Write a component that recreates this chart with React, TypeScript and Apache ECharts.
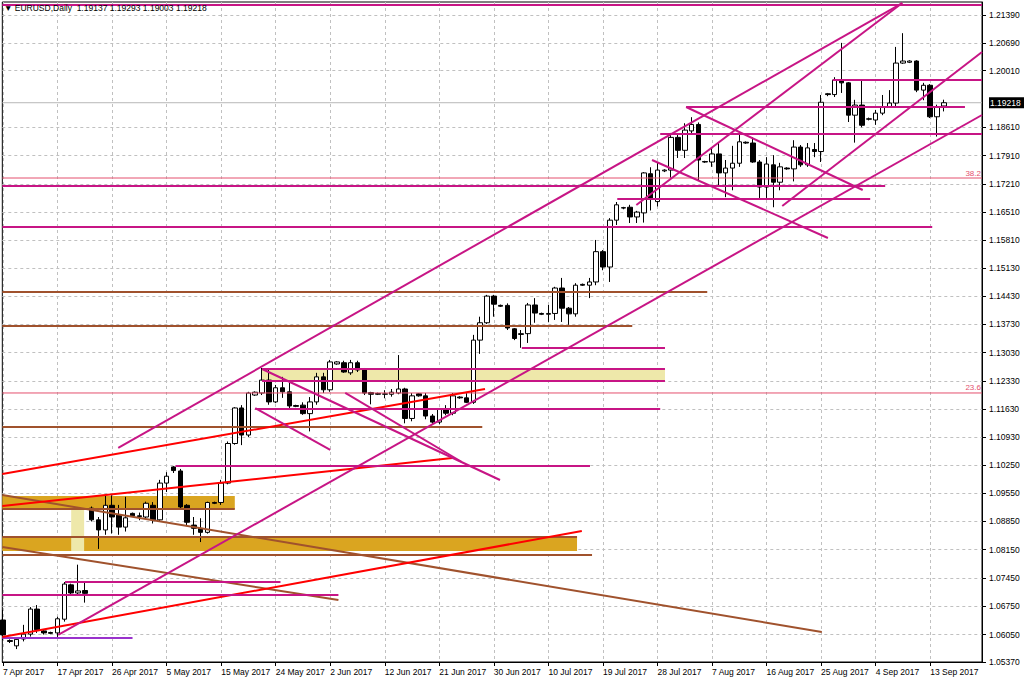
import React, { useEffect, useRef } from "react";
import * as echarts from "echarts";

// ---- axis labels ----
const dateLabels = [
  "7 Apr 2017", "17 Apr 2017", "26 Apr 2017", "5 May 2017", "15 May 2017", "24 May 2017",
  "2 Jun 2017", "12 Jun 2017", "21 Jun 2017", "30 Jun 2017", "10 Jul 2017", "19 Jul 2017",
  "28 Jul 2017", "7 Aug 2017", "16 Aug 2017", "25 Aug 2017", "4 Sep 2017", "13 Sep 2017",
];
const dateLabelIdx = [0, 8, 16, 24, 32, 40, 48, 56, 64, 72, 80, 88, 96, 104, 112, 120, 128, 136];

const priceTicks = [
  1.2139, 1.2069, 1.2001, 1.1861, 1.1791, 1.1721, 1.1651, 1.1581, 1.1513, 1.1443, 1.1373,
  1.1303, 1.1233, 1.1163, 1.1093, 1.1025, 1.0955, 1.0885, 1.0815, 1.0745, 1.0675, 1.0605, 1.0537,
];

// ---- daily OHLC (bar index 0 = 7 Apr 2017) ----
const opens = [
  1.0641, 1.0590, 1.0577, 1.0594, 1.0606, 1.0668, 1.0614, 1.0610, 1.0609, 1.0643, 1.0728, 1.0708, 1.0714,
  1.0918, 1.0889, 1.0864, 1.0925, 1.0901, 1.0871, 1.0905, 1.0899, 1.0896, 1.0925, 1.0889, 1.0980,
  1.1020, 1.1010, 1.0925, 1.0876, 1.0868, 1.0858, 1.0932, 1.0932, 1.0980, 1.1078, 1.1166, 1.1099,
  1.1198, 1.1203, 1.1235, 1.1181, 1.1216, 1.1206, 1.1172, 1.1173, 1.1152, 1.1181, 1.1243, 1.1211,
  1.1275, 1.1278, 1.1253, 1.1278, 1.1260, 1.1204, 1.1202, 1.1200, 1.1200, 1.1203, 1.1213, 1.1140,
  1.1201, 1.1196, 1.1146, 1.1131, 1.1163, 1.1153, 1.1193, 1.1191, 1.1180, 1.1334, 1.1377, 1.1443,
  1.1420, 1.1420, 1.1362, 1.1348, 1.1350, 1.1421, 1.1400, 1.1398, 1.1400, 1.1463, 1.1413, 1.1399,
  1.1472, 1.1470, 1.1478, 1.1553, 1.1515, 1.1631, 1.1662, 1.1663, 1.1639, 1.1649, 1.1746, 1.1677,
  1.1753, 1.1755, 1.1836, 1.1804, 1.1852, 1.1868, 1.1776, 1.1775, 1.1795, 1.1748, 1.1760, 1.1772,
  1.1824, 1.1822, 1.1775, 1.1713, 1.1768, 1.1725, 1.1760, 1.1758, 1.1812, 1.1768, 1.1806, 1.1801,
  1.1944, 1.1942, 1.1978, 1.1971, 1.1891, 1.1916, 1.1882, 1.1879, 1.1896, 1.1911, 1.1921, 1.2020,
  1.2022, 1.2025, 1.1953, 1.1965, 1.1887, 1.19137,
];
const highs = [
  1.0666, 1.0593, 1.0597, 1.0629, 1.0673, 1.0678, 1.0618, 1.0612, 1.0649, 1.0735, 1.0731, 1.0778, 1.0735,
  1.0922, 1.0896, 1.0951, 1.0950, 1.0926, 1.0946, 1.0907, 1.0907, 1.0934, 1.0933, 1.0988, 1.1007,
  1.1022, 1.1015, 1.0928, 1.0896, 1.0893, 1.0934, 1.0934, 1.0988, 1.1083, 1.1168, 1.1173, 1.1206,
  1.1207, 1.1265, 1.1265, 1.1223, 1.1243, 1.1228, 1.1174, 1.1180, 1.1193, 1.1253, 1.1253, 1.1285,
  1.1282, 1.1283, 1.1285, 1.1283, 1.1265, 1.1206, 1.1204, 1.1210, 1.1213, 1.1297, 1.1216, 1.1203,
  1.1203, 1.1203, 1.1151, 1.1166, 1.1173, 1.1203, 1.1195, 1.1203, 1.1347, 1.1392, 1.1446, 1.1446,
  1.1422, 1.1425, 1.1364, 1.1359, 1.1426, 1.1438, 1.1402, 1.1421, 1.1466, 1.1488, 1.1416, 1.1475,
  1.1474, 1.1488, 1.1582, 1.1557, 1.1636, 1.1676, 1.1664, 1.1669, 1.1654, 1.1750, 1.1762, 1.1775,
  1.1757, 1.1847, 1.1846, 1.1871, 1.1886, 1.1873, 1.1778, 1.1812, 1.1822, 1.1780, 1.1815, 1.1842,
  1.1826, 1.1836, 1.1780, 1.1787, 1.1792, 1.1773, 1.1762, 1.1829, 1.1817, 1.1822, 1.1822, 1.1941,
  1.1946, 1.1985, 1.2070, 1.1973, 1.1929, 1.1978, 1.1885, 1.1904, 1.1941, 1.1953, 1.2060, 1.2094,
  1.2027, 1.2027, 1.1971, 1.1968, 1.1917, 1.19293,
];
const lows = [
  1.0591, 1.0584, 1.0569, 1.0588, 1.0600, 1.0609, 1.0605, 1.0606, 1.0599, 1.0637, 1.0703, 1.0703, 1.0684,
  1.0885, 1.0817, 1.0852, 1.0855, 1.0852, 1.0860, 1.0897, 1.0888, 1.0893, 1.0880, 1.0884, 1.0958,
  1.1005, 1.0918, 1.0876, 1.0852, 1.0834, 1.0855, 1.0928, 1.0926, 1.0977, 1.1075, 1.1074, 1.1094,
  1.1196, 1.1198, 1.1174, 1.1178, 1.1191, 1.1161, 1.1168, 1.1149, 1.1108, 1.1174, 1.1203, 1.1206,
  1.1273, 1.1253, 1.1248, 1.1255, 1.1198, 1.1175, 1.1198, 1.1190, 1.1194, 1.1200, 1.1128, 1.1133,
  1.1194, 1.1138, 1.1126, 1.1126, 1.1148, 1.1148, 1.1189, 1.1178, 1.1176, 1.1300, 1.1374, 1.1392,
  1.1416, 1.1359, 1.1334, 1.1315, 1.1327, 1.1377, 1.1396, 1.1379, 1.1384, 1.1379, 1.1372, 1.1392,
  1.1468, 1.1438, 1.1470, 1.1507, 1.1478, 1.1619, 1.1658, 1.1624, 1.1624, 1.1625, 1.1655, 1.1665,
  1.1750, 1.1736, 1.1785, 1.1785, 1.1842, 1.1730, 1.1773, 1.1763, 1.1713, 1.1688, 1.1705, 1.1763,
  1.1820, 1.1773, 1.1686, 1.1686, 1.1663, 1.1705, 1.1756, 1.1727, 1.1763, 1.1763, 1.1787, 1.1775,
  1.1938, 1.1936, 1.1946, 1.1874, 1.1823, 1.1861, 1.1878, 1.1867, 1.1891, 1.1909, 1.1911, 1.2018,
  1.2020, 1.1948, 1.1928, 1.1884, 1.1838, 1.19003,
];
const closes = [
  1.0604, 1.0588, 1.0593, 1.0606, 1.0668, 1.0617, 1.0609, 1.0608, 1.0644, 1.0730, 1.0708, 1.0713, 1.0707,
  1.0889, 1.0864, 1.0925, 1.0896, 1.0871, 1.0894, 1.0899, 1.0897, 1.0930, 1.0889, 1.0980, 1.0997,
  1.1011, 1.0921, 1.0883, 1.0868, 1.0858, 1.0932, 1.0930, 1.0980, 1.1078, 1.1166, 1.1099, 1.1203,
  1.1205, 1.1235, 1.1181, 1.1216, 1.1206, 1.1171, 1.1170, 1.1152, 1.1181, 1.1243, 1.1211, 1.1280,
  1.1280, 1.1255, 1.1278, 1.1260, 1.1203, 1.1200, 1.1200, 1.1201, 1.1205, 1.1213, 1.1140, 1.1196,
  1.1196, 1.1146, 1.1131, 1.1163, 1.1153, 1.1196, 1.1191, 1.1180, 1.1334, 1.1377, 1.1443, 1.1423,
  1.1418, 1.1364, 1.1338, 1.1350, 1.1421, 1.1401, 1.1398, 1.1400, 1.1463, 1.1413, 1.1399, 1.1470,
  1.1470, 1.1478, 1.1553, 1.1515, 1.1631, 1.1669, 1.1661, 1.1639, 1.1651, 1.1748, 1.1685, 1.1755,
  1.1755, 1.1836, 1.1804, 1.1854, 1.1868, 1.1780, 1.1775, 1.1795, 1.1748, 1.1760, 1.1772, 1.1825,
  1.1822, 1.1775, 1.1713, 1.1770, 1.1725, 1.1763, 1.1758, 1.1812, 1.1768, 1.1810, 1.1801, 1.1923,
  1.1942, 1.1978, 1.1971, 1.1891, 1.1916, 1.1866, 1.1881, 1.1896, 1.1911, 1.1921, 1.2020, 1.2025,
  1.2025, 1.1953, 1.1965, 1.1887, 1.1912, 1.19218,
];

// ---- drawn objects: [fromBar, price, toBar, price] ----
const X_MIN = -0.1;
const X_MAX = 143.6;
const Y_MIN = 1.0537;
const Y_MAX = 1.21712;

const goldBands = [
  [X_MIN, 34.0, 1.09159, 1.09481],
  [X_MIN, 84.2, 1.08119, 1.08465],
];
const paleBands = [
  [38.0, 97.1, 1.12328, 1.12625],
  [10.0, 11.9, 1.08119, 1.09159],
];

const magentaLines = [
  [X_MIN, 1.2164, X_MAX, 1.2164],
  [121.7, 1.19781, X_MAX, 1.19781],
  [100.2, 1.19112, 141.1, 1.19112],
  [96.4, 1.18444, X_MAX, 1.18444],
  [X_MIN, 1.17156, 129.4, 1.17156],
  [90.1, 1.16834, 127.2, 1.16834],
  [X_MIN, 1.16141, 136.3, 1.16141],
  [76.1, 1.13145, 97.1, 1.13145],
  [38.0, 1.12625, 97.1, 1.12625],
  [38.0, 1.12328, 97.1, 1.12328],
  [37.0, 1.11635, 96.4, 1.11635],
  [25.3, 1.10223, 86.1, 1.10223],
  [9.1, 1.07351, 40.7, 1.07351],
  [X_MIN, 1.07029, 49.2, 1.07029],
  [16.9, 1.10669, 131.9, 1.21687],
  [92.9, 1.16686, 131.9, 1.21687],
  [8.1, 1.06039, X_MAX, 1.18914],
  [114.3, 1.16661, X_MAX, 1.20474],
  [100.2, 1.19112, 126.1, 1.17057],
  [95.2, 1.178, 121.0, 1.15869],
  [38.0, 1.12625, 72.9, 1.09877],
  [37.0, 1.11659, 48.0, 1.1062],
  [50.2, 1.12031, 67.3, 1.10322],
];
const redLines = [
  [X_MIN, 1.10025, 70.7, 1.1213],
  [X_MIN, 1.09233, 65.9, 1.10421],
  [X_MIN, 1.0599, 84.9, 1.08614],
];
const brownLines = [
  [X_MIN, 1.14532, 103.3, 1.14532],
  [X_MIN, 1.1369, 92.3, 1.1369],
  [X_MIN, 1.11189, 70.3, 1.11189],
  [X_MIN, 1.09159, 34.0, 1.09159],
  [X_MIN, 1.08465, 84.2, 1.08465],
  [X_MIN, 1.0802, 86.4, 1.0802],
  [X_MIN, 1.09505, 120.1, 1.06113],
  [X_MIN, 1.08218, 49.2, 1.06906],
];
const purpleLines = [[X_MIN, 1.05965, 19.0, 1.05965]];
const fibLevels = [1.17354, 1.12031];
const fibNames = ["38.2", "23.6"];
const fibLines = fibLevels.map((p) => [X_MIN, p, X_MAX, p]);
const lastPrice = closes[closes.length - 1];
const bidLines = [[X_MIN, lastPrice, X_MAX, lastPrice]];

const FONT = "Liberation Sans, Arial, sans-serif";
const FIB_COLOR = "#e4506e";

function lineSeries(data: number[][], color: string, width: number, z: number) {
  return {
    type: "custom",
    data,
    z,
    silent: true,
    encode: { x: [0, 2], y: [1, 3] },
    renderItem: (_p: any, api: any) => {
      const a = api.coord([api.value(0), api.value(1)]);
      const b = api.coord([api.value(2), api.value(3)]);
      return {
        type: "line",
        shape: { x1: a[0], y1: a[1], x2: b[0], y2: b[1] },
        style: { stroke: color, lineWidth: width },
      };
    },
  };
}

function bandSeries(data: number[][], color: string, z: number) {
  return {
    type: "custom",
    data,
    z,
    silent: true,
    encode: { x: [0, 1], y: [2, 3] },
    renderItem: (_p: any, api: any) => {
      const a = api.coord([api.value(0), api.value(3)]);
      const b = api.coord([api.value(1), api.value(2)]);
      return {
        type: "rect",
        shape: { x: a[0], y: a[1], width: b[0] - a[0], height: b[1] - a[1] },
        style: { fill: color },
      };
    },
  };
}

export default function App() {
  const ref = useRef<HTMLDivElement>(null);
  useEffect(() => {
    const chart = echarts.init(ref.current!, null, { renderer: "svg" });
    const grid = { color: "#c0c0c0", type: [3, 3], width: 1 };
    const option: any = {
      animation: false,
      backgroundColor: "#ffffff",
      grid: {
        left: 2, top: 2, right: 42, bottom: 21,
        show: true, borderColor: "#000", borderWidth: 1, backgroundColor: "transparent",
      },
      xAxis: {
        type: "value", min: X_MIN, max: X_MAX, position: "bottom",
        axisLine: { show: true, onZero: false, lineStyle: { color: "#000", width: 1 } },
        axisTick: { show: true, customValues: dateLabelIdx, length: 4, lineStyle: { color: "#000" } },
        axisLabel: {
          customValues: dateLabelIdx,
          formatter: (v: number) => dateLabels[dateLabelIdx.indexOf(Math.round(v))] ?? "",
          align: "left", margin: 5, fontSize: 8.5, color: "#000", fontFamily: FONT,
        },
        splitLine: { show: true, lineStyle: grid },
      },
      yAxis: {
        type: "value", min: Y_MIN, max: Y_MAX, position: "right",
        axisLine: { show: true, onZero: false, lineStyle: { color: "#000", width: 1 } },
        axisTick: { show: true, customValues: priceTicks, length: 4, lineStyle: { color: "#000" } },
        axisLabel: {
          customValues: priceTicks,
          formatter: (v: number) => v.toFixed(5),
          margin: 7, fontSize: 8.5, color: "#000", fontFamily: FONT,
        },
        splitLine: { show: true, lineStyle: grid },
      },
      series: [
        bandSeries(goldBands, "#daa520", 1),
        bandSeries(paleBands, "#eee8aa", 1),
        lineSeries(bidLines, "#b8b8b8", 1, 1),
        {
          type: "candlestick",
          data: opens.map((o, i) => [i, o, closes[i], lows[i], highs[i]]),
          encode: { x: 0, y: [1, 2, 3, 4] },
          barWidth: 5,
          z: 2,
          silent: true,
          itemStyle: {
            color: "#ffffff", color0: "#000000",
            borderColor: "#000000", borderColor0: "#000000", borderColorDoji: "#000000",
            borderWidth: 1,
          },
        },
        lineSeries(fibLines, FIB_COLOR, 1, 3),
        lineSeries(brownLines, "#a0522d", 2, 3),
        lineSeries(purpleLines, "#9932cc", 2, 3),
        lineSeries(redLines, "#ff0000", 2, 4),
        lineSeries(magentaLines, "#c71585", 2, 4),
      ],
    };
    chart.setOption(option);

    const toPx = (x: number, y: number) =>
      chart.convertToPixel({ xAxisIndex: 0, yAxisIndex: 0 }, [x, y]) as number[];
    const bid = toPx(X_MAX, lastPrice);
    const graphics: any[] = [
      {
        type: "text", left: 4, top: 3, z: 10,
        style: {
          text: "\u25BC EURUSD,Daily  1.19137 1.19293 1.19003 1.19218",
          fontSize: 8.5, fontFamily: FONT, fill: "#000",
        },
      },
      { type: "rect", shape: { x: bid[0] + 7, y: bid[1] - 5.5, width: 36, height: 11 }, style: { fill: "#000" }, z: 10 },
      {
        type: "text", x: bid[0] + 8, y: bid[1], z: 11,
        style: { text: lastPrice.toFixed(5), fontSize: 8.5, fontFamily: FONT, fill: "#fff", verticalAlign: "middle" },
      },
    ];
    fibLevels.forEach((p, k) => {
      const pt = toPx(X_MAX, p);
      graphics.push({
        type: "text", x: pt[0] - 1, y: pt[1] - 1, z: 10,
        style: { text: fibNames[k], fontSize: 8, fontFamily: FONT, fill: FIB_COLOR, align: "right", verticalAlign: "bottom" },
      });
    });
    chart.setOption({ graphic: graphics });
    return () => chart.dispose();
  }, []);
  return <div ref={ref} style={{ position: "fixed", left: 0, top: 0, width: 1024, height: 683 }} />;
}
